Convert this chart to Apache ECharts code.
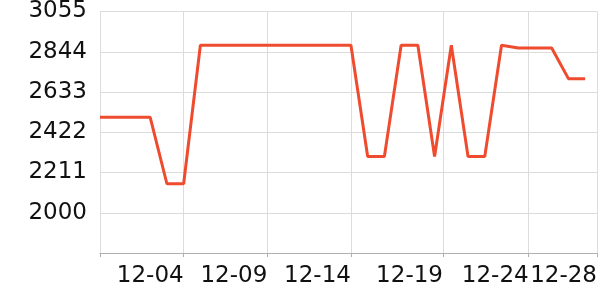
<!DOCTYPE html>
<html>
<head>
<meta charset="utf-8">
<script src="https://cdn.jsdelivr.net/npm/echarts@6/dist/echarts.min.js"></script>
<style>html,body{margin:0;padding:0;background:#fff}#c{width:600px;height:300px}</style>
</head>
<body>
<div id="c"></div>
<script>
// Daily dates (first point 2023-11-29)
const dates = [
  '2023-11-29','2023-11-30','2023-12-01','2023-12-02','2023-12-03','2023-12-04',
  '2023-12-05','2023-12-06','2023-12-07','2023-12-08','2023-12-09','2023-12-10',
  '2023-12-11','2023-12-12','2023-12-13','2023-12-14','2023-12-15','2023-12-16',
  '2023-12-17','2023-12-18','2023-12-19','2023-12-20','2023-12-21','2023-12-22',
  '2023-12-23','2023-12-24','2023-12-25','2023-12-26','2023-12-27','2023-12-28'
];
const values = [
  2500, 2500, 2500, 2500, 2152, 2152,
  2878, 2878, 2878, 2878, 2878, 2878,
  2878, 2878, 2878, 2878, 2295, 2295,
  2878, 2878, 2295, 2878, 2295, 2295,
  2878, 2864, 2864, 2864, 2703, 2703
];
// x tick / label positions
const xTicks = ['2023-11-29 00:00','2023-12-04 00:00','2023-12-09 00:00','2023-12-14 00:00','2023-12-19 12:00','2023-12-24 15:00','2023-12-28 17:00'];
const xLabels = ['2023-12-04 00:00','2023-12-09 00:00','2023-12-14 00:00','2023-12-19 12:00','2023-12-24 15:00','2023-12-28 17:00'];
const xMin = '2023-11-29 00:00';
const xMax = '2023-12-28 17:00';
const yMin = 1789, yMax = 3055, yStep = 211;

const DAY = 86400000;
const toTs = s => Date.UTC(+s.slice(0,4), +s.slice(5,7) - 1, +s.slice(8,10), s.length > 10 ? +s.slice(11,13) : 0, s.length > 10 ? +s.slice(14,16) : 0);
const base = toTs(xMin);
const toDay = s => (toTs(s) - base) / DAY;
const pad = n => (n < 10 ? '0' : '') + n;
const fmt = v => { const d = new Date(base + v * DAY); return pad(d.getUTCMonth() + 1) + '-' + pad(d.getUTCDate()); };

const chart = echarts.init(document.getElementById('c'), null, {renderer: 'canvas'});
chart.setOption({
  animation: false,
  grid: {left: 100, right: 1, top: 10, bottom: 47, containLabel: false},
  xAxis: {
    type: 'value',
    min: toDay(xMin),
    max: toDay(xMax),
    axisLine: {show: true, lineStyle: {color: '#b0b0b0', width: 1}},
    axisTick: {show: true, length: 4, lineStyle: {color: '#b0b0b0'}, customValues: xTicks.map(toDay)},
    splitLine: {show: true, lineStyle: {color: '#dcdcdc', width: 1}},
    axisLabel: {
      customValues: xLabels.map(toDay),
      hideOverlap: false,
      align: 'right',
      margin: 12,
      fontFamily: 'DejaVu Sans',
      fontSize: 23,
      color: '#111',
      formatter: fmt
    }
  },
  yAxis: {
    type: 'value',
    min: yMin, max: yMax, interval: yStep,
    axisLine: {show: false},
    axisTick: {show: false},
    splitLine: {show: true, lineStyle: {color: '#dcdcdc', width: 1}},
    axisLabel: {
      showMinLabel: false,
      margin: 13,
      fontFamily: 'DejaVu Sans',
      fontSize: 23,
      color: '#111',
      formatter: v => String(v)
    }
  },
  series: [{
    type: 'line',
    data: dates.map((d, i) => [toDay(d), values[i]]),
    showSymbol: false,
    symbol: 'none',
    lineStyle: {color: '#ef4b2e', width: 3},
    itemStyle: {color: '#ef4b2e'}
  }]
});
</script>
</body>
</html>
